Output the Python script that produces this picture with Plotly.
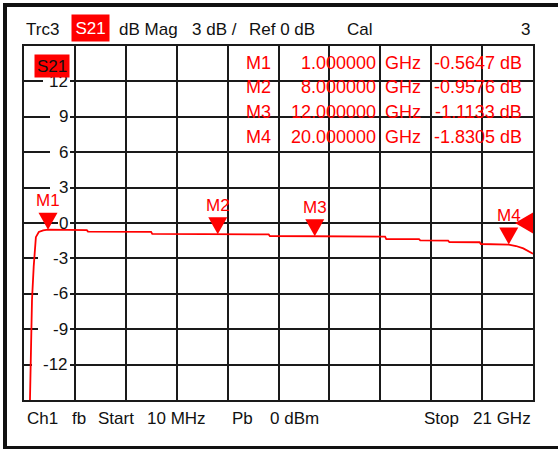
import plotly.graph_objects as go

# ---------------- data ----------------
freq_ghz = [0.01, 0.25, 0.29, 0.32, 0.34, 0.41, 0.45, 0.50, 0.62, 0.80, 1.0,
            2.60, 2.65, 5.25, 5.30, 8.0, 10.10, 10.15, 12.0, 14.90, 14.95,
            16.30, 16.35, 17.50, 17.55, 18.80, 18.85, 20.0, 20.30, 20.60, 21.0]
s21_db = [-40.0, -15.0, -12.2, -9.3, -6.5, -3.7, -2.3, -1.2, -0.76, -0.62, -0.5647,
          -0.60, -0.73, -0.75, -0.93, -0.9576, -0.97, -1.10, -1.1133, -1.15, -1.36,
          -1.37, -1.47, -1.50, -1.61, -1.63, -1.78, -1.8305, -1.95, -2.15, -2.60]

marker_names = ["M1", "M2", "M3", "M4"]
marker_freqs = [1.0, 8.0, 12.0, 20.0]
marker_vals = [-0.5647, -0.9576, -1.1133, -1.8305]

ytick_vals = [12, 9, 6, 3, 0, -3, -6, -9, -12]
ytick_text = ["12", "9", "6", "3", "0", "-3", "-6", "-9", "-12"]

f_start, f_stop = 0.01, 21.0
y_min, y_max = -15, 15
ref_level = 0

# ---------------- layout helpers ----------------
W, H = 558, 449
L, R, T, B = 24, 533, 46, 400
FONT = "Liberation Sans, Arial, sans-serif"
RED = "#ff0000"


def px(xp):
    return (xp - L) / (R - L)


def py(yp):
    return (B - yp) / (B - T)


fig = go.Figure()
fig.add_trace(go.Scatter(x=freq_ghz, y=s21_db, mode="lines",
                         line=dict(color=RED, width=1.8), hoverinfo="skip"))

div = (f_stop - f_start) / 10
xgrid = [f_start + i * div for i in range(11)]

fig.update_xaxes(range=[f_start, f_stop], tickvals=xgrid, showticklabels=False,
                 ticks="", showgrid=True, gridcolor="#1a1a1a", gridwidth=2,
                 showline=True, linecolor="#1a1a1a", linewidth=2, mirror=True,
                 zeroline=False)
fig.update_yaxes(range=[y_min, y_max], tickvals=list(range(y_min, y_max + 1, 3)),
                 showticklabels=False, ticks="", showgrid=True,
                 gridcolor="#1a1a1a", gridwidth=2, showline=True,
                 linecolor="#1a1a1a", linewidth=2, mirror=True, zeroline=False)

shapes = []
annotations = []

# white gaps in gridlines behind y labels
gap_left = {1: 26, 2: 19, 3: 8}
for v, t in zip(ytick_vals, ytick_text):
    n = len(t)
    x0 = gap_left[n]
    if t.startswith("-") and n == 2:
        x0 = 14
    if t == "0":
        x0 = 34
    shapes.append(dict(type="rect", layer="between", xref="x", yref="y",
                       xsizemode="pixel", ysizemode="pixel",
                       xanchor=f_start, yanchor=v, x0=x0, x1=46, y0=-3, y1=3,
                       fillcolor="white", line=dict(width=0)))
    annotations.append(dict(xref="x domain", yref="y", x=0, y=v, xshift=46,
                            xanchor="right", yanchor="middle", text=t,
                            showarrow=False,
                            font=dict(family=FONT, size=17, color="#111")))

# marker triangles and labels
for name, f, v in zip(marker_names, marker_freqs, marker_vals):
    shapes.append(dict(type="path", xref="x", yref="y", xsizemode="pixel",
                       ysizemode="pixel", xanchor=f, yanchor=v,
                       path="M -9.5,17 L 9.5,17 L 0,0 Z",
                       fillcolor=RED, line=dict(width=0)))
    annotations.append(dict(x=f, y=v, xref="x", yref="y", yshift=29,
                            text=name, showarrow=False,
                            font=dict(family=FONT, size=17, color=RED)))

# reference level triangle on the right edge
shapes.append(dict(type="path", xref="x", yref="y", xsizemode="pixel",
                   ysizemode="pixel", xanchor=f_stop, yanchor=ref_level,
                   path="M 0,10.5 L 0,-10.5 L -18,0 Z",
                   fillcolor=RED, line=dict(width=0)))

# outer frame (top, left, bottom)
shapes.append(dict(type="line", xref="paper", yref="paper", x0=px(3), x1=px(W),
                   y0=py(5), y1=py(5), line=dict(color="#111", width=4)))
shapes.append(dict(type="line", xref="paper", yref="paper", x0=px(5), x1=px(5),
                   y0=py(3), y1=py(448), line=dict(color="#111", width=4)))
shapes.append(dict(type="line", xref="paper", yref="paper", x0=px(3), x1=px(W),
                   y0=py(447.5), y1=py(447.5), line=dict(color="#111", width=3)))


def txt(x, y, t, anchor="left", color="#111", size=17, **kw):
    annotations.append(dict(xref="paper", yref="paper", x=px(x), y=py(y),
                            xanchor=anchor, yanchor="middle", text=t,
                            showarrow=False,
                            font=dict(family=FONT, size=size, color=color), **kw))


# header
txt(24, 29, "Trc3")
txt(90.5, 28, "S21", anchor="center", color="white", bgcolor=RED,
    width=37, height=26, borderpad=0)
txt(117, 29, "dB Mag")
txt(190, 29, "3 dB /")
txt(247, 29, "Ref 0 dB")
txt(345, 29, "Cal")
txt(532, 29, "3", anchor="right")

# marker table
row_y = [62.5, 87.5, 111.5, 136.5]
for name, f, v, ry in zip(marker_names, marker_freqs, marker_vals, row_y):
    txt(273, ry, name, anchor="right", color=RED, size=18)
    txt(378, ry, f"{f:.6f}", anchor="right", color=RED, size=18)
    txt(383, ry, "GHz", color=RED, size=18)
    txt(524, ry, f"{v:.4f} dB", anchor="right", color=RED, size=18)

# in-plot trace label (drawn after the "12" label so it covers it)
txt(52, 66, "S21", anchor="center", color="#111", bgcolor=RED,
    width=34, height=22, borderpad=0)

# footer
fy = 418
txt(25, fy, "Ch1")
txt(70, fy, "fb")
txt(96, fy, "Start")
txt(145, fy, "10 MHz")
txt(230, fy, "Pb")
txt(268, fy, "0 dBm")
txt(422, fy, "Stop")
txt(533, fy, "21 GHz", anchor="right")

fig.update_layout(width=W, height=H, margin=dict(l=L, r=W - R, t=T, b=H - B),
                  plot_bgcolor="white", paper_bgcolor="white",
                  showlegend=False, shapes=shapes, annotations=annotations)

fig.write_html("out.html", config={"displayModeBar": False},
               post_script="document.body.style.margin='0';"
                           "document.body.style.overflow='hidden';")
